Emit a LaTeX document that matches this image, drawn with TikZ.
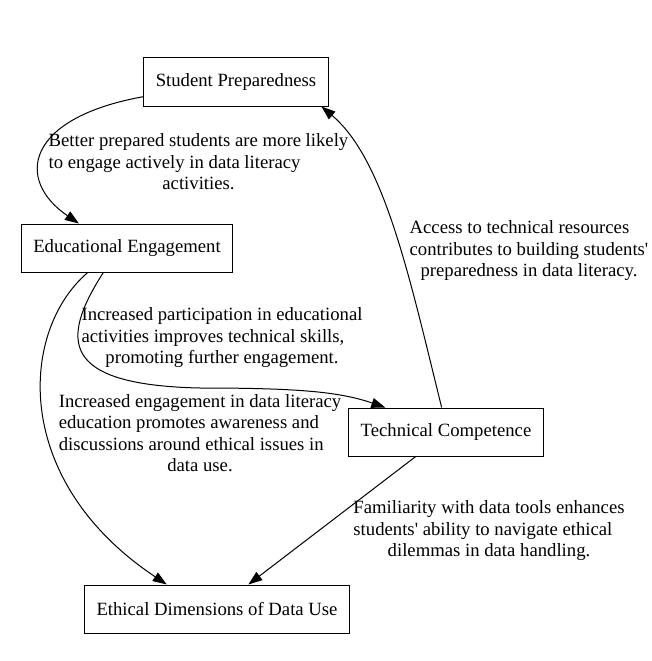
\documentclass[tikz,border=0pt]{standalone}
\usepackage{fontspec}
\setmainfont{Liberation Serif}
\newfontfamily\diagfont{Liberation Serif}
\usetikzlibrary{arrows.meta}
\newcommand{\lastline}[1]{\multicolumn{1}{@{}c@{}}{#1}}
\tikzset{
	concept/.style={
		draw,
		rectangle,
		line width=1pt,
		minimum height=48pt,
		inner xsep=12pt,
	},
	note/.style={
		inner sep=0pt,
	},
	link/.style={
		draw,
		line width=1pt,
		-{Triangle[length=14pt,width=10pt]}
	},
}

\begin{document}
\begin{tikzpicture}[x=1pt,y=-1pt,every node/.style={font=\diagfont\fontsize{18.7}{21.5}\selectfont}]
		\useasboundingbox (0,0) rectangle (651,661);
		\node[concept] (prep) at (236,82) {Student Preparedness};
		\node[concept] (engage) at (127,248) {Educational Engagement};
		\node[concept] (tech) at (446,432) {Technical Competence};
		\node[concept] (ethics) at (217,609) {Ethical Dimensions of Data Use};
		% edge labels
		\node[note] (l-prep) at (198.5,164) {\begin{tabular}{@{}l@{}}Better prepared students are more likely\\to engage actively in data literacy\\\lastline{activities.}\end{tabular}};
		\node[note] (l-engtech) at (222,338) {\begin{tabular}{@{}l@{}}Increased participation in educational\\activities improves technical skills,\\\lastline{promoting further engagement.}\end{tabular}};
		\node[note] (l-engeth) at (200,435) {\begin{tabular}{@{}l@{}}Increased engagement in data literacy\\education promotes awareness and\\discussions around ethical issues in\\\lastline{data use.}\end{tabular}};
		\node[note] (l-techprep) at (529,251) {\begin{tabular}{@{}l@{}}Access to technical resources\\contributes to building students\textquotesingle\\\lastline{preparedness in data literacy.}\end{tabular}};
		\node[note] (l-techeth) at (489,531) {\begin{tabular}{@{}l@{}}Familiarity with data tools enhances\\students\textquotesingle{} ability to navigate ethical\\\lastline{dilemmas in data handling.}\end{tabular}};
		% edges
		\draw[link] (prep.189) .. controls (25,118) and (15,180) .. (engage.153);
		\draw[link] (engage.212) .. controls (20,330) and (10,480) .. (ethics.154);
		\draw[link] (engage.226) .. controls (60,340) and (60,385) .. (200,388) .. controls (300,388) and (340,392) .. (tech.158);
		\draw[link] (tech.100) .. controls (410,280) and (385,160) .. (prep.-16);
		\draw[link] (tech.219) -- (ethics.38);
	\end{tikzpicture}
\end{document}
